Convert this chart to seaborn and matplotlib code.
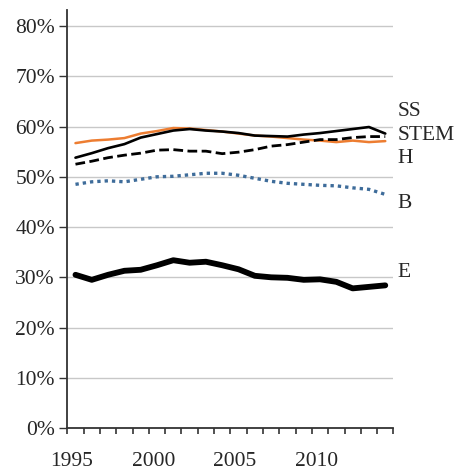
import matplotlib
matplotlib.use("Agg")
import matplotlib.pyplot as plt
import seaborn as sns
import pandas as pd
from matplotlib.ticker import FixedLocator, FuncFormatter

# data (percent)
years = list(range(1995, 2015))
ss = [53.8, 54.7, 55.7, 56.5, 57.8, 58.5, 59.2, 59.5, 59.2, 59.0,
      58.7, 58.2, 58.1, 58.0, 58.4, 58.7, 59.1, 59.5, 59.9, 58.6]
stem = [52.5, 53.1, 53.8, 54.3, 54.7, 55.3, 55.4, 55.1, 55.1, 54.6,
        54.9, 55.4, 56.1, 56.4, 56.9, 57.4, 57.4, 57.8, 58.0, 58.0]
hum = [56.7, 57.2, 57.4, 57.7, 58.6, 59.1, 59.7, 59.6, 59.3, 59.0,
       58.6, 58.2, 58.0, 57.7, 57.4, 57.2, 56.9, 57.2, 56.9, 57.1]
bus = [48.5, 49.0, 49.2, 49.0, 49.5, 50.0, 50.1, 50.4, 50.7, 50.7,
       50.3, 49.7, 49.1, 48.7, 48.5, 48.3, 48.2, 47.8, 47.5, 46.5]
edu = [30.5, 29.5, 30.5, 31.3, 31.5, 32.4, 33.4, 32.9, 33.1, 32.4,
       31.6, 30.3, 30.0, 29.9, 29.5, 29.6, 29.1, 27.8, 28.1, 28.4]

names = ["SS", "STEM", "H", "B", "E"]
label_y = [62.9, 58.2, 53.7, 44.7, 30.9]
year_labels = ["1995", "2000", "2005", "2010"]

sns.set_style("white")
plt.rcParams["font.family"] = ["Liberation Serif", "DejaVu Serif"]

fig = plt.figure(figsize=(4.58, 4.72), dpi=100)
ax = fig.add_axes([0.147, 0.093, 0.712, 0.886])

pos = list(range(len(years)))
df = pd.DataFrame({"pos": pos, "SS": ss, "STEM": stem, "H": hum, "B": bus, "E": edu})

# gridlines
for g in range(10, 90, 10):
    ax.axhline(g, color="#c8c8c8", lw=1.0, zorder=0)

sns.lineplot(data=df, x="pos", y="H", ax=ax, color="#ED7D31", lw=1.8, zorder=3)
sns.lineplot(data=df, x="pos", y="SS", ax=ax, color="black", lw=1.9, zorder=4)
sns.lineplot(data=df, x="pos", y="STEM", ax=ax, color="black", lw=2.0,
             linestyle=(0, (3.5, 1.6)), zorder=4)
sns.lineplot(data=df, x="pos", y="B", ax=ax, color="#3E6C9A", lw=2.4,
             linestyle=(0, (1, 1.2)), zorder=3)
sns.lineplot(data=df, x="pos", y="E", ax=ax, color="black", lw=4.2,
             solid_capstyle="round", zorder=4)

# series labels at the right end
for name, yv in zip(names, label_y):
    ax.text(19.75, yv, name, fontsize=15.5, va="center", ha="left", clip_on=False)

ax.set_xlim(-0.5, len(years) - 0.5)
ax.set_ylim(0, 83.2)
ax.set_yticks(range(0, 90, 10))
ax.yaxis.set_major_formatter(FuncFormatter(lambda v, p: f"{int(v)}%"))
ax.set_xticks([i * 5 - 0.22 for i in range(len(year_labels))])
ax.set_xticklabels(year_labels)
ax.xaxis.set_minor_locator(FixedLocator([i - 0.5 for i in range(len(years) + 1)]))
ax.tick_params(axis="x", which="major", length=0, pad=17.5, labelsize=15.5)
ax.tick_params(axis="x", which="minor", length=4, width=1.2, color="#333333",
               direction="out", bottom=True)
ax.tick_params(axis="y", length=6, width=1.0, color="#333333", direction="out",
               left=True, labelsize=15.5, pad=3)

ax.set_xlabel("")
ax.set_ylabel("")
for side in ["top", "right"]:
    ax.spines[side].set_visible(False)
for side in ["left", "bottom"]:
    ax.spines[side].set_color("#333333")
    ax.spines[side].set_linewidth(1.3)

fig.savefig("out.png", dpi=100)
